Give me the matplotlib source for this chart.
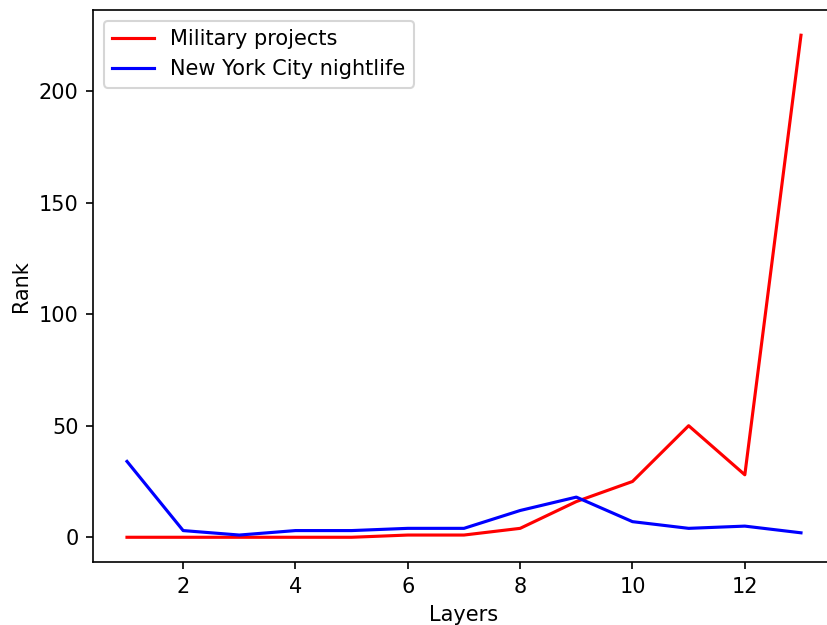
import matplotlib
matplotlib.use("Agg")
import matplotlib.pyplot as plt

layers = list(range(1, 14))
military = [0, 0, 0, 0, 0, 1, 1, 4, 16, 25, 50, 28, 225]
nightlife = [34, 3, 1, 3, 3, 4, 4, 12, 18, 7, 4, 5, 2]

fig, ax = plt.subplots(figsize=(827 / 150, 625 / 150), dpi=150)
ax.plot(layers, military, color="red", label="Military projects")
ax.plot(layers, nightlife, color="blue", label="New York City nightlife")
ax.set_xlabel("Layers")
ax.set_ylabel("Rank")
ax.legend(loc="upper left")
fig.subplots_adjust(left=0.1128, right=1.0093, top=0.9838, bottom=0.1002)
fig.savefig("out.png")
